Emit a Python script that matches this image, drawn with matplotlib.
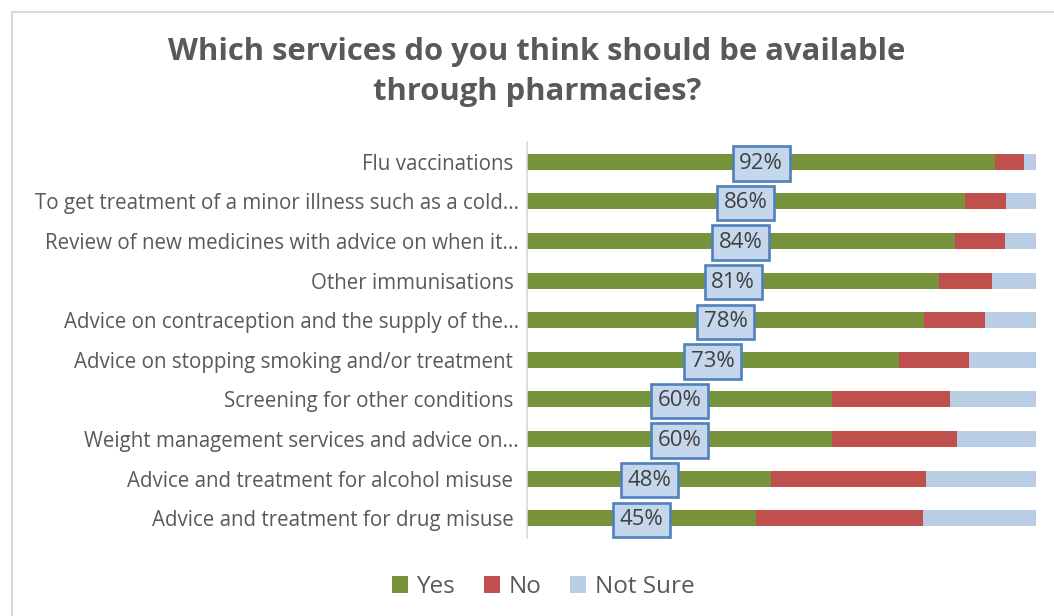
import matplotlib
matplotlib.use("Agg")
import matplotlib.pyplot as plt
from matplotlib.patches import Rectangle

categories = [
    "Flu vaccinations ",
    "To get treatment of a minor illness such as a cold...",
    "Review of new medicines with advice on when it...",
    "Other immunisations ",
    "Advice on contraception and the supply of the...",
    "Advice on stopping smoking and/or treatment ",
    "Screening for other conditions ",
    "Weight management services and advice on...",
    "Advice and treatment for alcohol misuse ",
    "Advice and treatment for drug misuse ",
]
yes = [92, 86, 84, 81, 78, 73, 60, 60, 48, 45]
no = [5.7, 8.1, 9.9, 10.4, 11.9, 13.9, 23.2, 24.5, 30.4, 32.8]
not_sure = [2.3, 5.9, 6.1, 8.6, 10.1, 13.1, 16.8, 15.5, 21.6, 22.2]
yes_labels = ["92%", "86%", "84%", "81%", "78%", "73%", "60%", "60%", "48%", "45%"]
series_names = ["Yes", "No", "Not Sure"]
title = "Which services do you think should be available\nthrough pharmacies?"

c_yes, c_no, c_ns = "#77933C", "#C0504D", "#B9CDE5"
txt = "#595959"
font = ["Open Sans", "DejaVu Sans"]

fig = plt.figure(figsize=(10.54, 6.16), dpi=100)
fig.patch.set_facecolor("white")
# chart outer border
fig.patches.append(Rectangle((12/1054, -0.1), 1.2, 1 - 12/616 + 0.1, transform=fig.transFigure,
                             fill=False, ec="#D9D9D9", lw=1.5))

ax = fig.add_axes([527/1054, 1 - 538/616, 509/1054, 396/616])
y = list(range(len(categories)))
h = 0.4
ax.barh(y, yes, height=h, color=c_yes, label=series_names[0])
ax.barh(y, no, left=yes, height=h, color=c_no, label=series_names[1])
left2 = [a + b for a, b in zip(yes, no)]
ax.barh(y, not_sure, left=left2, height=h, color=c_ns, label=series_names[2])

for i, (v, lab) in enumerate(zip(yes, yes_labels)):
    ax.text(v / 2, i + 0.04, lab, ha="center", va="center", fontsize=16, color="#404040",
            family=font,
            bbox=dict(boxstyle="square,pad=0.3", fc="#C5D7EC", ec="#4F81BD", lw=1.9))

ax.set_xlim(0, 100)
ax.set_ylim(len(categories) - 0.5, -0.5)
ax.set_yticks(y)
ax.set_yticklabels(categories, fontsize=14.8, color=txt, family=font)
ax.tick_params(axis="y", length=0, pad=6)
ax.set_xticks([])
for s in ["top", "right", "bottom"]:
    ax.spines[s].set_visible(False)
ax.spines["left"].set_color("#D9D9D9")
ax.spines["left"].set_linewidth(1.2)

fig.text(537/1054, 1 - 72/616, title, ha="center", va="center", fontsize=22.3,
         fontweight="bold", color=txt, family=font, linespacing=1.42)

handles, labels = ax.get_legend_handles_labels()
leg = fig.legend(handles, labels, loc="center", bbox_to_anchor=(543/1054, 1 - 587/616),
                 ncol=3, frameon=False, handlelength=0.65, handleheight=0.65,
                 handletextpad=0.35, columnspacing=1.2, prop={"family": font, "size": 17.5})
for t in leg.get_texts():
    t.set_color(txt)

fig.savefig("out.png", dpi=100)
